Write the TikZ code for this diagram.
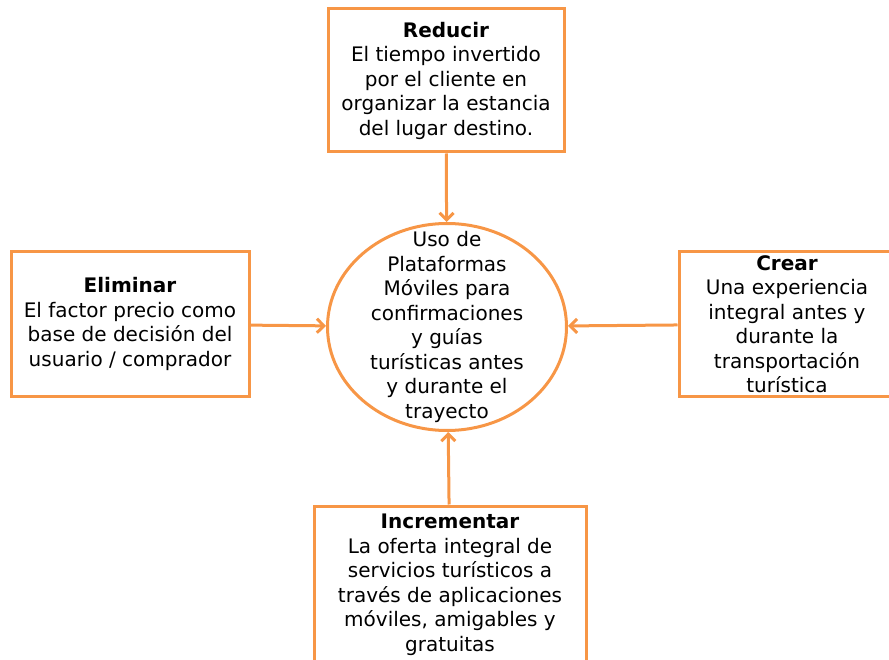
\documentclass[tikz,border=0pt]{standalone}
\usepackage{fontspec}
\setmainfont{DejaVu Sans}
\usetikzlibrary{arrows.meta,shapes.geometric}
\definecolor{naranja}{HTML}{F79646}

\begin{document}
\begin{tikzpicture}[x=1pt,y=-1pt]

\tikzset{
caja/.style={rectangle,draw=naranja,line width=3pt,align=center,inner sep=0pt},
centro/.style={ellipse,draw=naranja,line width=3pt,minimum width=239pt,minimum height=207pt,inner sep=0pt},
edge/.style={draw=naranja,line width=3pt,-{Straight Barb[length=7pt,width=14pt]}},
font={\fontsize{20pt}{24.5pt}\selectfont}
}
\useasboundingbox (0,0) rectangle (889,660);

% nodes
\node[centro] (uso) at (447,327) {};
\node[align=center] (usotexto) at (uso) {Uso de\\Plataformas\\M\'oviles para\\confirmaciones\\y gu\'ias\\tur\'isticas antes\\y durante el\\trayecto};

\node[caja, minimum width=236pt, minimum height=143pt] (reducir) at (446,80.5)
  {\textbf{Reducir}\\El tiempo invertido\\por el cliente en\\organizar la estancia\\del lugar destino.};
\node[caja, minimum width=238pt, minimum height=144pt] (eliminar) at (130,324)
  {\textbf{Eliminar}\\El factor precio como\\base de decisi\'on del\\usuario / comprador};
\node[caja, minimum width=216pt, minimum height=144pt] (crear) at (787,324)
  {\textbf{Crear}\\Una experiencia\\integral antes y\\durante la\\transportaci\'on\\tur\'istica};
\node[caja, minimum width=272pt, minimum height=158pt] (incrementar) at (450,585)
  {\textbf{Incrementar}\\La oferta integral de\\servicios tur\'isticos a\\trav\'es de aplicaciones\\m\'oviles, amigables y\\gratuitas};

%edges
\path[edge]
(reducir)     edge (uso)
(eliminar)    edge (uso)
(crear)       edge (uso)
(incrementar) edge (uso)
;

\end{tikzpicture}
\end{document}
